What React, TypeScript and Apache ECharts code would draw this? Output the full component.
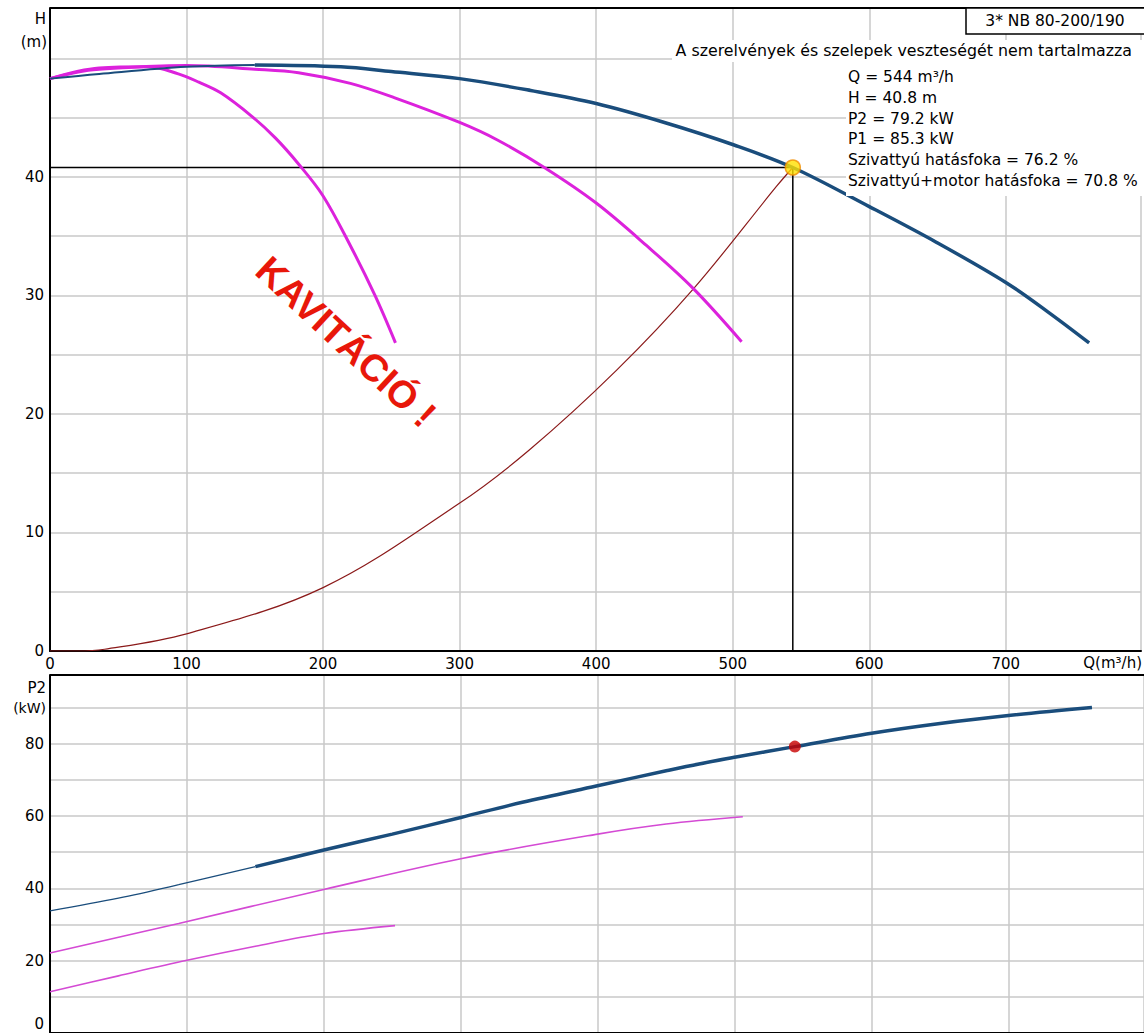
import React, { useEffect, useRef } from "react";
import * as echarts from "echarts";

// ---- Head curves (top chart) ----
const hThreeQ = [0, 36, 100, 150, 213, 250, 300, 352, 400, 450, 501, 544, 600, 649, 700, 731, 761];
const hThreeH = [48.3, 48.7, 49.3, 49.45, 49.3, 48.9, 48.3, 47.3, 46.2, 44.6, 42.7, 40.8, 37.5, 34.5, 31.1, 28.6, 26.0];

const hTwoQ = [0, 28, 50, 100, 150, 182, 220, 252, 300, 328, 362, 400, 437, 471, 506.5];
const hTwoH = [48.3, 49.0, 49.2, 49.4, 49.1, 48.8, 47.9, 46.7, 44.6, 43.1, 40.8, 37.8, 34.2, 30.6, 26.1];

const hOneQ = [0, 36, 72, 94, 109, 125, 148, 165, 182, 200, 220, 238, 253];
const hOneH = [48.3, 49.2, 49.3, 48.7, 48.0, 47.1, 45.1, 43.3, 41.1, 38.4, 34.2, 30.0, 26.0];

const sysQ = [0, 20, 40, 100, 200, 299, 351, 415, 471.5, 532, 544];
const sysH = [0, 0, 0.15, 1.45, 5.35, 12.4, 16.96, 23.7, 30.6, 39.2, 40.8];

// ---- Power curves (bottom chart) ----
const pThreeQ = [0, 50, 94, 150, 200, 250, 300, 345, 399, 450, 474, 501, 544, 600, 650, 700, 761];
const pThreeP = [33.8, 37.3, 41.0, 46.0, 50.6, 55.0, 59.6, 63.8, 68.3, 72.5, 74.4, 76.3, 79.2, 82.9, 85.6, 87.8, 90.0];

const pTwoQ = [0, 94, 200, 300, 400, 450, 506];
const pTwoP = [22.1, 30.3, 39.7, 48.2, 55.0, 57.8, 59.8];

const pOneQ = [0, 50, 100, 150, 200, 252];
const pOneP = [11.4, 15.8, 20.1, 24.0, 27.5, 29.7];

// ---- Duty point ----
const dutyQ = 544;
const dutyH = 40.8;
const dutyP2 = 79.2;
const thinLimitQ = 150;

const title = "3* NB 80-200/190";
const note = "A szerelvények és szelepek veszteségét nem tartalmazza";
const infoLines = [
  "Q = 544 m³/h",
  "H = 40.8 m",
  "P2 = 79.2 kW",
  "P1 = 85.3 kW",
  "Szivattyú hatásfoka = 76.2 %",
  "Szivattyú+motor hatásfoka = 70.8 %",
];

const pairs = (q: number[], v: number[]) => q.map((x, i) => [x, v[i]]);
const thinPart = (q: number[], v: number[]) => pairs(q, v).filter((p) => p[0] <= thinLimitQ);
const thickPart = (q: number[], v: number[]) => pairs(q, v).filter((p) => p[0] >= thinLimitQ);

const FONT = '"DejaVu Sans", sans-serif';
const BLUE = "#1a4d7c";
const MAG = "#dc22dc";
const MAG2 = "#d44ad4";
const GRID = "#c8c8c8";

const Q_MAX = 799;

function lineSeries(axis: number, data: number[][], color: string, width: number, z: number) {
  return {
    type: "line",
    xAxisIndex: axis,
    yAxisIndex: axis,
    data,
    smooth: 0.35,
    symbol: "none",
    lineStyle: { color, width },
    z,
  };
}

function buildOption() {
  const xCommon = {
    type: "value",
    min: 0,
    max: Q_MAX,
    interval: 100,
    axisTick: { show: false },
    splitLine: { show: true, lineStyle: { color: GRID, width: 1.5 } },
    axisLine: { show: true, onZero: false, lineStyle: { color: "#000", width: 2 } },
  };
  const graphic: any[] = [
    { type: "line", z: 50, shape: { x1: 50, y1: 8, x2: 1144, y2: 8 }, style: { stroke: "#000", lineWidth: 2 } },
    { type: "line", z: 50, shape: { x1: 50, y1: 675, x2: 1144, y2: 675 }, style: { stroke: "#000", lineWidth: 2 } },
    { type: "rect", z: 60, shape: { x: 672, y: 40, width: 472, height: 22 }, style: { fill: "#fff" } },
    { type: "rect", z: 60, shape: { x: 846, y: 62, width: 298, height: 134 }, style: { fill: "#fff" } },
    { type: "rect", z: 70, shape: { x: 966, y: 8, width: 180, height: 26 }, style: { fill: "#fff", stroke: "#000", lineWidth: 1.5 } },
    { type: "text", z: 71, x: 1055, y: 21, style: { text: title, font: `15.5px ${FONT}`, fill: "#000", align: "center", verticalAlign: "middle" } },
    { type: "text", z: 71, x: 1132, y: 50, style: { text: note, font: `15.8px ${FONT}`, fill: "#000", align: "right", verticalAlign: "middle" } },
    { type: "text", z: 71, x: 46, y: 19, style: { text: "H", font: `15px ${FONT}`, fill: "#000", align: "right", verticalAlign: "middle" } },
    { type: "text", z: 71, x: 47, y: 42, style: { text: "(m)", font: `15px ${FONT}`, fill: "#000", align: "right", verticalAlign: "middle" } },
    { type: "text", z: 71, x: 46, y: 688, style: { text: "P2", font: `15px ${FONT}`, fill: "#000", align: "right", verticalAlign: "middle" } },
    { type: "text", z: 71, x: 46, y: 708, style: { text: "(kW)", font: `14px ${FONT}`, fill: "#000", align: "right", verticalAlign: "middle" } },
    { type: "text", z: 71, x: 1142, y: 663, style: { text: "Q(m³/h)", font: `15px ${FONT}`, fill: "#000", align: "right", verticalAlign: "middle" } },
    { type: "text", z: 71, x: 44, y: 1024, style: { text: "0", font: `15px ${FONT}`, fill: "#000", align: "right", verticalAlign: "middle" } },
    {
      type: "text",
      z: 80,
      x: 346,
      y: 342,
      rotation: -0.75,
      style: { text: "KAVITÁCIÓ !", font: 'bold 38px "Liberation Sans", Arial, sans-serif', fill: "#e8170a", align: "center", verticalAlign: "middle" },
    },
  ];
  infoLines.forEach((t, i) => {
    graphic.push({
      type: "text",
      z: 71,
      x: 848,
      y: 77 + i * 20.8,
      style: { text: t, font: `15.5px ${FONT}`, fill: "#000", align: "left", verticalAlign: "middle" },
    });
  });

  return {
    animation: false,
    backgroundColor: "#fff",
    textStyle: { fontFamily: FONT },
    grid: [
      { left: 50, top: 8, width: 1094, height: 643 },
      { left: 50, top: 675, width: 1094, height: 361.5 },
    ],
    xAxis: [
      {
        ...xCommon,
        gridIndex: 0,
        axisLabel: {
          show: true,
          color: "#000",
          fontSize: 15,
          fontFamily: FONT,
          margin: 5,
          formatter: (v: number) => (v % 100 === 0 && v <= 700 ? String(v) : ""),
        },
      },
      { ...xCommon, gridIndex: 1, axisLabel: { show: false } },
    ],
    yAxis: [
      {
        type: "value",
        gridIndex: 0,
        min: 0,
        max: 54.26,
        interval: 5,
        axisTick: { show: false },
        axisLine: { show: true, onZero: false, lineStyle: { color: "#000", width: 2 } },
        splitLine: { show: true, lineStyle: { color: GRID, width: 1.5 } },
        axisLabel: {
          color: "#000",
          fontSize: 15,
          fontFamily: FONT,
          margin: 6,
          formatter: (v: number) => (v % 10 === 0 && v <= 40 ? String(v) : ""),
        },
      },
      {
        type: "value",
        gridIndex: 1,
        min: 0,
        max: 99,
        interval: 10,
        axisTick: { show: false },
        axisLine: { show: true, onZero: false, lineStyle: { color: "#000", width: 2 } },
        splitLine: { show: true, lineStyle: { color: GRID, width: 1.5 } },
        axisLabel: {
          color: "#000",
          fontSize: 15,
          fontFamily: FONT,
          margin: 6,
          formatter: (v: number) => (v % 20 === 0 && v > 0 && v <= 80 ? String(v) : ""),
        },
      },
    ],
    series: [
      {
        type: "line",
        xAxisIndex: 0,
        yAxisIndex: 0,
        data: [[0, dutyH], [dutyQ, dutyH], [dutyQ, 0]],
        symbol: "none",
        lineStyle: { color: "#000", width: 1.5 },
        z: 3,
      },
      lineSeries(0, pairs(sysQ, sysH), "#8b1a1a", 1.2, 4),
      lineSeries(0, pairs(hOneQ, hOneH), MAG, 3, 5),
      lineSeries(0, pairs(hTwoQ, hTwoH), MAG, 3, 5),
      lineSeries(0, thinPart(hThreeQ, hThreeH), BLUE, 2, 6),
      lineSeries(0, thickPart(hThreeQ, hThreeH), BLUE, 3.5, 6),
      {
        type: "scatter",
        xAxisIndex: 0,
        yAxisIndex: 0,
        data: [[dutyQ, dutyH]],
        symbol: "circle",
        symbolSize: 15,
        itemStyle: { color: "#ffe000", borderColor: "#f08c00", borderWidth: 1.5 },
        z: 10,
      },
      lineSeries(1, pairs(pOneQ, pOneP), MAG2, 1.6, 5),
      lineSeries(1, pairs(pTwoQ, pTwoP), MAG2, 1.6, 5),
      lineSeries(1, thinPart(pThreeQ, pThreeP), BLUE, 1.3, 6),
      lineSeries(1, thickPart(pThreeQ, pThreeP), BLUE, 3.5, 6),
      {
        type: "scatter",
        xAxisIndex: 1,
        yAxisIndex: 1,
        data: [[dutyQ, dutyP2]],
        symbol: "circle",
        symbolSize: 12,
        itemStyle: { color: "#c80000" },
        z: 10,
      },
    ],
    graphic,
  };
}

export default function App() {
  const ref = useRef<HTMLDivElement | null>(null);
  useEffect(() => {
    if (!ref.current) return;
    const chart = echarts.init(ref.current, null, { renderer: "svg" });
    chart.setOption(buildOption() as any);
    return () => chart.dispose();
  }, []);
  return (
    <div
      ref={ref}
      style={{ position: "fixed", left: 0, top: 0, width: 1144, height: 1033, background: "#fff" }}
    />
  );
}
